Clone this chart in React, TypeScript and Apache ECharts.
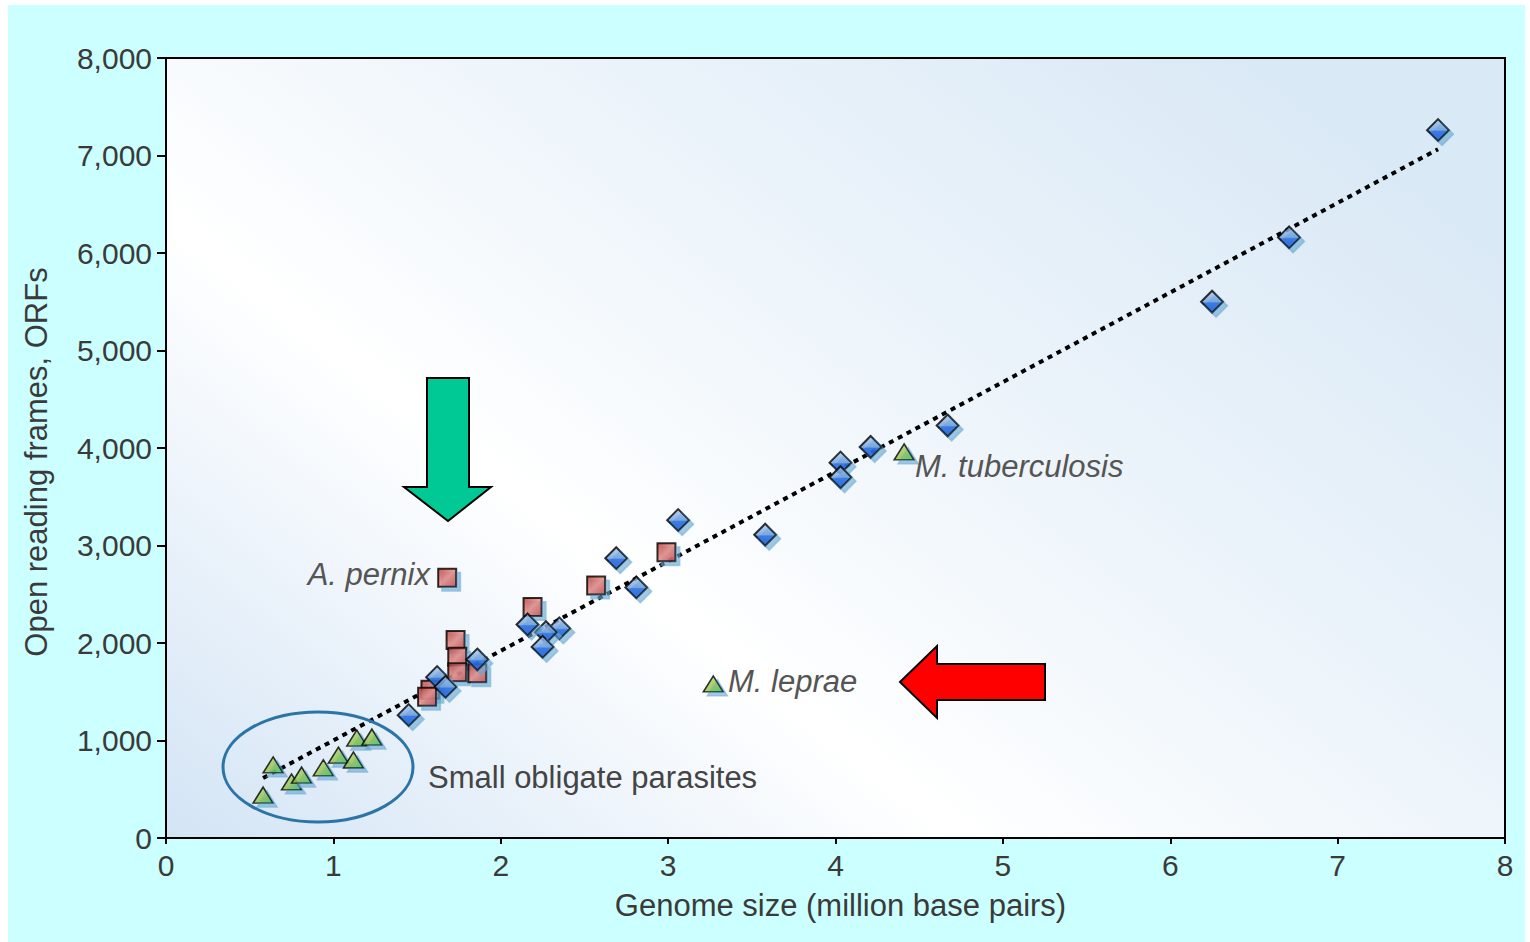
import React, { useEffect, useRef } from "react";
import * as echarts from "echarts";

// Blue diamonds (genome size in Mb, ORFs)
const blueX = [7.6, 6.71, 6.25, 4.67, 4.21, 4.03, 4.03, 3.58, 3.06, 2.81, 2.69, 2.35, 2.27, 2.25, 2.16, 1.86, 1.62, 1.67, 1.45];
const blueY = [7260, 6160, 5500, 4230, 4010, 3850, 3700, 3110, 3260, 2570, 2870, 2150, 2110, 1960, 2190, 1830, 1650, 1550, 1260];

// Red squares
const redX = [1.68, 2.99, 2.57, 2.19, 1.73, 1.74, 1.74, 1.86, 1.58, 1.56];
const redY = [2670, 2930, 2590, 2370, 2030, 1860, 1700, 1690, 1520, 1450];

// Green triangles
const greenX = [4.41, 3.27, 0.64, 0.58, 0.75, 0.81, 0.94, 1.03, 1.12, 1.14, 1.23];
const greenY = [3960, 1580, 750, 440, 575, 645, 720, 850, 800, 1025, 1035];

// Trend line end points
const trendX = [0.58, 7.6];
const trendY = [615, 7065];

const xTicks = [0, 1, 2, 3, 4, 5, 6, 7, 8];
const yTicks = [0, 1000, 2000, 3000, 4000, 5000, 6000, 7000, 8000];

const FONT = "'Liberation Sans', Arial, sans-serif";

function pairs(xs: number[], ys: number[]) {
  return xs.map((x, i) => [x, ys[i]]);
}

export default function App() {
  const ref = useRef<HTMLDivElement>(null);

  useEffect(() => {
    document.body.style.margin = "0";
    if (!ref.current) return;
    const chart = echarts.init(ref.current, null, { renderer: "svg" });
    const shadow = {
      shadowColor: "rgba(100,165,210,0.75)",
      shadowOffsetX: 4,
      shadowOffsetY: 4,
      shadowBlur: 1,
    };
    chart.setOption({
      animation: false,
      grid: {
        left: 166,
        top: 58,
        width: 1339,
        height: 780,
        show: true,
        borderColor: "#000",
        borderWidth: 2,
        backgroundColor: {
          type: "linear",
          x: 0,
          y: 1,
          x2: 1,
          y2: 0.25,
          colorStops: [
            { offset: 0, color: "#d3e4f5" },
            { offset: 0.38, color: "#ffffff" },
            { offset: 0.55, color: "#f3f8fc" },
            { offset: 1, color: "#dae9f6" },
          ],
        },
      },
      xAxis: {
        type: "value",
        min: xTicks[0],
        max: xTicks[xTicks.length - 1],
        interval: 1,
        name: "Genome size (million base pairs)",
        nameLocation: "middle",
        nameGap: 52,
        nameTextStyle: { fontFamily: FONT, fontSize: 31, color: "#3a3a3a", padding: [0, 0, 0, 10] },
        axisLine: { show: true, lineStyle: { color: "#000", width: 2 } },
        axisTick: { show: true, length: 6, lineStyle: { color: "#000", width: 2 } },
        axisLabel: { fontFamily: FONT, fontSize: 30, color: "#3a3a3a", margin: 12 },
        splitLine: { show: false },
      },
      yAxis: {
        type: "value",
        min: yTicks[0],
        max: yTicks[yTicks.length - 1],
        interval: 1000,
        name: "Open reading frames, ORFs",
        nameLocation: "middle",
        nameGap: 114,
        nameTextStyle: { fontFamily: FONT, fontSize: 31, color: "#3a3a3a", padding: [0, 28, 0, 0] },
        axisLine: { show: true, lineStyle: { color: "#000", width: 2 } },
        axisTick: { show: true, length: 9, lineStyle: { color: "#000", width: 2 } },
        axisLabel: {
          fontFamily: FONT,
          fontSize: 30,
          color: "#3a3a3a",
          margin: 14,
          formatter: (v: number) => v.toLocaleString("en-US"),
        },
        splitLine: { show: false },
      },
      series: [
        {
          type: "line",
          data: pairs(trendX, trendY),
          showSymbol: false,
          symbol: "none",
          z: 1,
          lineStyle: { color: "#000", width: 4, type: [5, 5] },
        },
        {
          type: "scatter",
          data: pairs(greenX, greenY),
          symbol: "triangle",
          symbolSize: [20, 16],
          z: 2,
          itemStyle: {
            color: {
              type: "linear",
              x: 0,
              y: 0,
              x2: 1,
              y2: 1,
              colorStops: [
                { offset: 0, color: "#c4de8c" },
                { offset: 0.6, color: "#8cc043" },
                { offset: 1, color: "#30d030" },
              ],
            },
            borderColor: "#000",
            borderWidth: 1.5,
            ...shadow,
          },
        },
        {
          type: "scatter",
          data: pairs(redX, redY),
          symbol: "rect",
          symbolSize: 18,
          z: 3,
          itemStyle: {
            color: {
              type: "linear",
              x: 0,
              y: 0,
              x2: 1,
              y2: 1,
              colorStops: [
                { offset: 0, color: "#b8322a" },
                { offset: 0.5, color: "#e88a7c" },
                { offset: 1, color: "#c83e30" },
              ],
            },
            borderColor: "#000",
            borderWidth: 2,
            ...shadow,
          },
        },
        {
          type: "scatter",
          data: pairs(blueX, blueY),
          symbol: "diamond",
          symbolSize: 22,
          z: 4,
          itemStyle: {
            color: {
              type: "linear",
              x: 0,
              y: 0,
              x2: 0,
              y2: 1,
              colorStops: [
                { offset: 0, color: "#a9c8ec" },
                { offset: 0.5, color: "#6f9fdc" },
                { offset: 0.56, color: "#1a66e6" },
                { offset: 1, color: "#0a4fd0" },
              ],
            },
            borderColor: "#000",
            borderWidth: 2,
            ...shadow,
          },
        },
      ],
      graphic: [
        {
          type: "ellipse",
          shape: { cx: 318, cy: 767, rx: 95, ry: 55 },
          style: { fill: "none", stroke: "#2b74a8", lineWidth: 3 },
          z: 10,
        },
        {
          type: "polygon",
          shape: {
            points: [
              [427, 378],
              [469, 378],
              [469, 487],
              [491, 487],
              [448, 521],
              [404, 487],
              [427, 487],
            ],
          },
          style: { fill: "#00c996", stroke: "#000", lineWidth: 2 },
          z: 10,
        },
        {
          type: "polygon",
          shape: {
            points: [
              [900, 682],
              [937, 646],
              [937, 664],
              [1045, 664],
              [1045, 700],
              [937, 700],
              [937, 718],
            ],
          },
          style: { fill: "#ff0000", stroke: "#000", lineWidth: 2 },
          z: 10,
        },
        {
          type: "text",
          x: 430,
          y: 574,
          style: {
            text: "A. pernix",
            fontFamily: FONT,
            fontSize: 31,
            fontStyle: "italic",
            fill: "#555",
            align: "right",
            verticalAlign: "middle",
          },
          z: 10,
        },
        {
          type: "text",
          x: 915,
          y: 466,
          style: {
            text: "M. tuberculosis",
            fontFamily: FONT,
            fontSize: 31,
            fontStyle: "italic",
            fill: "#555",
            align: "left",
            verticalAlign: "middle",
          },
          z: 10,
        },
        {
          type: "text",
          x: 728,
          y: 681,
          style: {
            text: "M. leprae",
            fontFamily: FONT,
            fontSize: 31,
            fontStyle: "italic",
            fill: "#555",
            align: "left",
            verticalAlign: "middle",
          },
          z: 10,
        },
        {
          type: "text",
          x: 428,
          y: 777,
          style: {
            text: "Small obligate parasites",
            fontFamily: FONT,
            fontSize: 31,
            fill: "#444",
            align: "left",
            verticalAlign: "middle",
          },
          z: 10,
        },
      ],
    });
    return () => chart.dispose();
  }, []);

  return (
    <div style={{ position: "relative", width: 1530, height: 942, background: "#fff", overflow: "hidden" }}>
      <div style={{ position: "absolute", left: 8, top: 5, width: 1517, height: 937, background: "#ccffff" }} />
      <div ref={ref} style={{ position: "absolute", left: 0, top: 0, width: 1530, height: 942 }} />
    </div>
  );
}
